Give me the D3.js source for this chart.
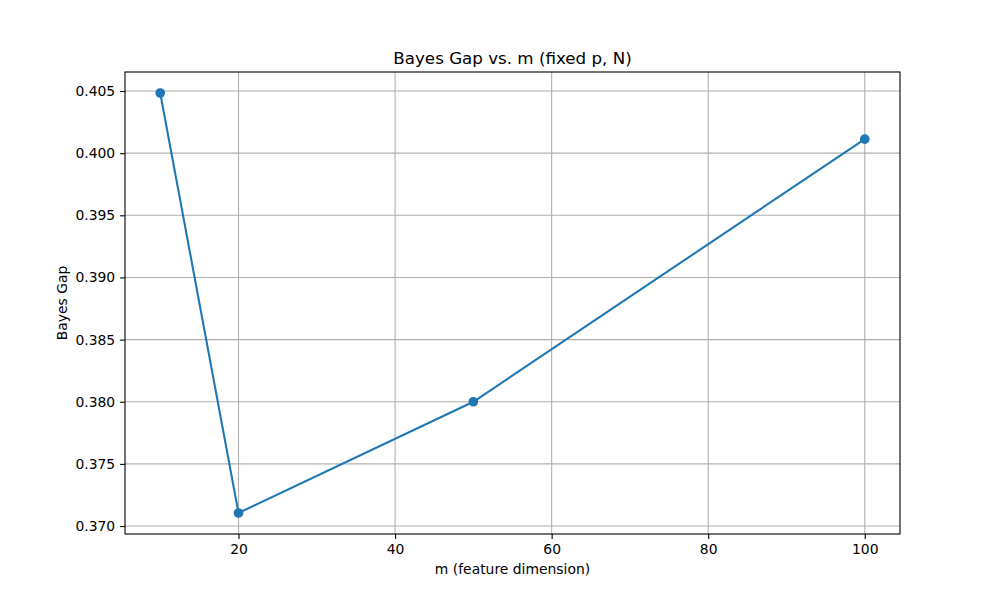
<!DOCTYPE html>
<html><head><meta charset="utf-8">
<script src="https://cdn.jsdelivr.net/npm/d3@7"></script>
<style>body{margin:0;background:#fff}svg{display:block}text{font-family:"DejaVu Sans",sans-serif;fill:#000}</style>
</head><body><svg id="c" width="1000" height="600"></svg>
<script>
const mValues = [10, 20, 50, 100];
const gapValues = [0.40484, 0.37105, 0.3800, 0.40113];
const xTicks = [20, 40, 60, 80, 100];
const yTicks = [0.370, 0.375, 0.380, 0.385, 0.390, 0.395, 0.400, 0.405];

const svg = d3.select("#c");
const L = 125, R = 900, T = 72, B = 534;
const xmin = d3.min(mValues), xmax = d3.max(mValues), xr = xmax - xmin;
const ymin = d3.min(gapValues), ymax = d3.max(gapValues), yr = ymax - ymin;
const x = d3.scaleLinear().domain([xmin - 0.05*xr, xmax + 0.05*xr]).range([L, R]);
const y = d3.scaleLinear().domain([ymin - 0.05*yr, ymax + 0.05*yr]).range([B, T]);

// grid
const g = svg.append("g");
g.selectAll(".gx").data(xTicks).enter().append("line")
  .attr("x1", d => x(d)).attr("x2", d => x(d)).attr("y1", T).attr("y2", B)
  .attr("stroke", "#b0b0b0").attr("stroke-width", 1.1);
g.selectAll(".gy").data(yTicks).enter().append("line")
  .attr("x1", L).attr("x2", R).attr("y1", d => y(d)).attr("y2", d => y(d))
  .attr("stroke", "#b0b0b0").attr("stroke-width", 1.1);

// axes
const xa = svg.append("g").attr("transform", `translate(0,${B})`)
  .call(d3.axisBottom(x).tickValues(xTicks).tickSize(4.9).tickPadding(4.9).tickFormat(d3.format("d")));
const ya = svg.append("g").attr("transform", `translate(${L},0)`)
  .call(d3.axisLeft(y).tickValues(yTicks).tickSize(4.9).tickPadding(4.9).tickFormat(d3.format(".3f")));
[xa, ya].forEach(a => {
  a.select(".domain").remove();
  a.selectAll("text").attr("font-size", "13.9px").attr("font-family", "DejaVu Sans");
  a.selectAll("line").attr("stroke", "#000").attr("stroke-width", 1.1);
});

// line
svg.append("path").datum(mValues.map((m, i) => [m, gapValues[i]]))
  .attr("d", d3.line().x(d => x(d[0])).y(d => y(d[1])))
  .attr("fill", "none").attr("stroke", "#1f77b4").attr("stroke-width", 2.08);
svg.selectAll(".pt").data(mValues.map((m, i) => [m, gapValues[i]])).enter().append("circle")
  .attr("cx", d => x(d[0])).attr("cy", d => y(d[1])).attr("r", 4.17)
  .attr("fill", "#1f77b4").attr("stroke", "#1f77b4").attr("stroke-width", 1.39);

// frame
svg.append("rect").attr("x", L).attr("y", T).attr("width", R-L).attr("height", B-T)
  .attr("fill", "none").attr("stroke", "#000").attr("stroke-width", 1.1);

// labels
svg.append("text").attr("x", (L+R)/2).attr("y", 64).attr("text-anchor", "middle")
  .attr("font-size", "16.7px").text("Bayes Gap vs. m (fixed p, N)");
svg.append("text").attr("x", (L+R)/2).attr("y", 574).attr("text-anchor", "middle")
  .attr("font-size", "13.9px").text("m (feature dimension)");
svg.append("text").attr("transform", `translate(67,${(T+B)/2}) rotate(-90)`).attr("text-anchor", "middle")
  .attr("font-size", "13.9px").text("Bayes Gap");
</script></body></html>
